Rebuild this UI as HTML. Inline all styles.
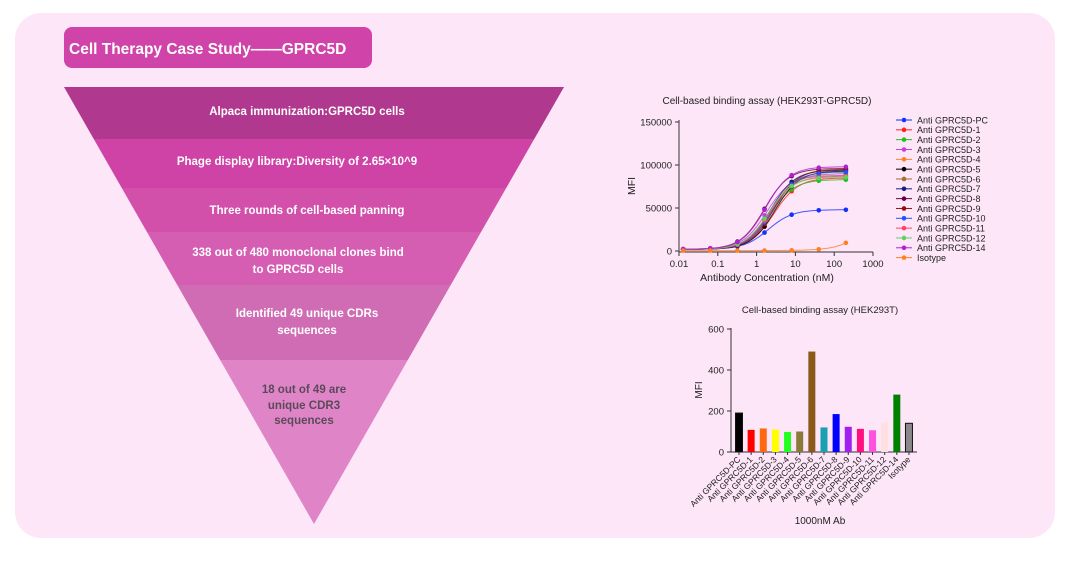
<!DOCTYPE html>
<html><head><meta charset="utf-8">
<style>
body{margin:0;background:#fff;width:1074px;height:556px;overflow:hidden;font-family:"Liberation Sans",Arial,sans-serif}
</style></head><body>
<svg id="s" width="1074" height="556" xmlns="http://www.w3.org/2000/svg" font-family="Liberation Sans, Arial, sans-serif">
<rect x="15" y="13" width="1040" height="525" rx="26" fill="#fde6f8"/>
<rect x="64" y="27" width="308" height="41" rx="8" fill="#d043a8"/>
<text x="69" y="54" font-size="15.5" font-weight="bold" fill="#fff">Cell Therapy Case Study——GPRC5D</text>
<defs><clipPath id="tri"><polygon points="64,87 564,87 314,524"/></clipPath></defs>
<g clip-path="url(#tri)">
<rect x="60" y="87" width="510" height="52" fill="#b0388f"/>
<rect x="60" y="139" width="510" height="49" fill="#cf42a6"/>
<rect x="60" y="188" width="510" height="44" fill="#d24faa"/>
<rect x="60" y="232" width="510" height="53" fill="#d55db2"/>
<rect x="60" y="285" width="510" height="75" fill="#d06cb4"/>
<rect x="60" y="360" width="510" height="170" fill="#e084c8"/>
</g>
<g font-size="11.5" font-weight="bold" fill="#fff" text-anchor="middle">
<text x="307" y="115">Alpaca immunization:GPRC5D cells</text>
<text x="297" y="165">Phage display library:Diversity of 2.65×10^9</text>
<text x="307" y="214">Three rounds of cell-based panning</text>
<text x="298" y="256">338 out of 480 monoclonal clones bind</text>
<text x="298" y="273">to GPRC5D cells</text>
<text x="307" y="317">Identified 49 unique CDRs</text>
<text x="307" y="334">sequences</text>
</g>
<g font-size="11.5" font-weight="bold" fill="#5a4a5a" text-anchor="middle">
<text x="304" y="393">18 out of 49 are</text>
<text x="304" y="409">unique CDR3</text>
<text x="304" y="424">sequences</text>
</g>
<g id="lc" font-size="9.5" fill="#222"></g>
<g id="bc" font-size="9.5" fill="#222"></g>
</svg>
<script>
var NS="http://www.w3.org/2000/svg";
function el(p,t,a,txt){var e=document.createElementNS(NS,t);for(var k in a)e.setAttribute(k,a[k]);if(txt!=null)e.textContent=txt;p.appendChild(e);return e;}
var lc=document.getElementById('lc');
var X=function(c){return 679+(Math.log10(c)+2)*194/5;},Y=function(v){return 251-v/150000*129;};
el(lc,'text',{x:767,y:104,'text-anchor':'middle','font-size':'10'},'Cell-based binding assay (HEK293T-GPRC5D)');
el(lc,'line',{x1:679,y1:120,x2:679,y2:252,stroke:'#333','stroke-width':1});
el(lc,'line',{x1:679,y1:252,x2:873,y2:252,stroke:'#333','stroke-width':1});
[0,50000,100000,150000].forEach(function(v){el(lc,'line',{x1:675,y1:Y(v),x2:679,y2:Y(v),stroke:'#333'});el(lc,'text',{x:672,y:Y(v)+3.5,'text-anchor':'end'},v);});
['0.01','0.1','1','10','100','1000'].forEach(function(t,i){var x=679+i*194/5;el(lc,'line',{x1:x,y1:252,x2:x,y2:256,stroke:'#333'});el(lc,'text',{x:x,y:267,'text-anchor':'middle'},t);});
el(lc,'text',{x:767,y:281,'text-anchor':'middle','font-size':'10.5'},'Antibody Concentration (nM)');
el(lc,'text',{x:635,y:186,'text-anchor':'middle','font-size':'10.5',transform:'rotate(-90 635 186)'},'MFI');
var names=['Anti GPRC5D-PC','Anti GPRC5D-1','Anti GPRC5D-2','Anti GPRC5D-3','Anti GPRC5D-4','Anti GPRC5D-5','Anti GPRC5D-6','Anti GPRC5D-7','Anti GPRC5D-8','Anti GPRC5D-9','Anti GPRC5D-10','Anti GPRC5D-11','Anti GPRC5D-12','Anti GPRC5D-14','Isotype'];
var cols=['#1030ff','#ff2020','#20c020','#c040e0','#ff8020','#000','#a07030','#102080','#600040','#901010','#2050ff','#ff4060','#60d060','#b020d0','#ff8020'];
var tops=[48000,85000,83000,88000,95000,93000,90000,94000,96000,95000,92000,87000,86000,98000,0];
var ec=[2,2.8,2.2,1.8,2.6,3,2.4,2.3,1.6,2.8,2.5,2.2,2.0,1.7,0];
var cs=[0.0128,0.064,0.32,1.6,8,40,200];
for(var i=0;i<15;i++){
 var d='';
 for(var k=0;k<=80;k++){var lx=Math.log10(0.0128)+k*(Math.log10(200)-Math.log10(0.0128))/80,c=Math.pow(10,lx);
  var v=i==14?500+9000*Math.pow(c/200,1.1):2000+(tops[i]-2000)/(1+Math.pow(ec[i]/c,1.4));
  d+=(k?'L':'M')+X(c).toFixed(1)+','+Y(v).toFixed(1);}
 el(lc,'path',{d:d,fill:'none',stroke:cols[i],'stroke-width':1,opacity:0.8});
 cs.forEach(function(c){var v=i==14?500+9000*Math.pow(c/200,1.1):2000+(tops[i]-2000)/(1+Math.pow(ec[i]/c,1.4));el(lc,'circle',{cx:X(c),cy:Y(v),r:2.3,fill:cols[i]});});
 var ly=120+i*9.83;
 el(lc,'line',{x1:896,y1:ly,x2:912,y2:ly,stroke:cols[i]});el(lc,'circle',{cx:904,cy:ly,r:2.3,fill:cols[i]});
 el(lc,'text',{x:917,y:ly+3.3,'font-size':'9'},names[i]);
}
var bc=document.getElementById('bc');
var BY=function(v){return 452-v/600*123;};
el(bc,'text',{x:820,y:313,'text-anchor':'middle','font-size':'9.5'},'Cell-based binding assay (HEK293T)');
el(bc,'line',{x1:731,y1:328,x2:731,y2:452,stroke:'#333'});
el(bc,'line',{x1:731,y1:452,x2:917,y2:452,stroke:'#333'});
[0,200,400,600].forEach(function(v){el(bc,'line',{x1:727,y1:BY(v),x2:731,y2:BY(v),stroke:'#333'});el(bc,'text',{x:724,y:BY(v)+3.5,'text-anchor':'end'},v);});
el(bc,'text',{x:702,y:390,'text-anchor':'middle','font-size':'10',transform:'rotate(-90 702 390)'},'MFI');
var bv=[190,108,115,110,98,100,490,120,185,123,113,106,145,280,140];
var bcol=['#000','#ff0000','#ff6a10','#ffff00','#20ff20','#8a7a3a','#8b5a1a','#1aa0b0','#0000ff','#a020f0','#ff1080','#ff50e0','#ffe0e0','#008000','#888'];
for(var i=0;i<15;i++){var cx=739+i*12.14;
 el(bc,'rect',{x:cx-3.5,y:BY(bv[i]),width:7,height:452-BY(bv[i]),fill:bcol[i],stroke:(i==14||i==0)?'#111':'none','stroke-width':1});
 el(bc,'line',{x1:cx,y1:452,x2:cx,y2:455,stroke:'#333'});
 el(bc,'text',{x:cx+2,y:460,'text-anchor':'end','font-size':'8.5',transform:'rotate(-45 '+(cx+2)+' 460)'},names[i]);}
el(bc,'text',{x:820,y:524,'text-anchor':'middle','font-size':'10'},'1000nM Ab');
</script>
</body></html>
